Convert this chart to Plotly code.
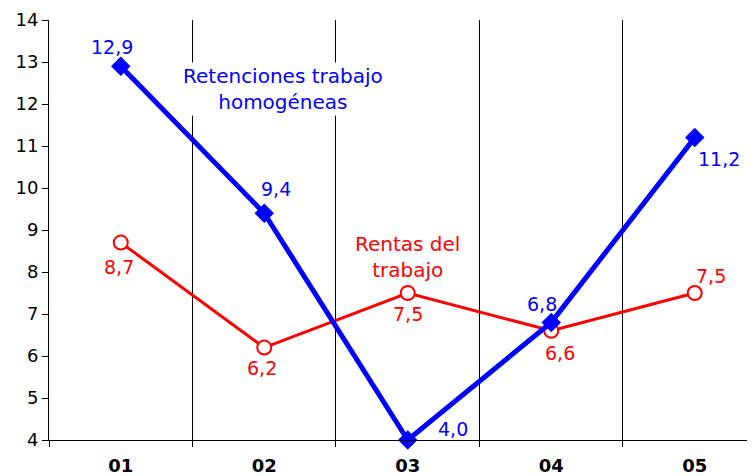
import plotly.graph_objects as go

periodos = ["01", "02", "03", "04", "05"]
retenciones = [12.9, 9.4, 4.0, 6.8, 11.2]
rentas = [8.7, 6.2, 7.5, 6.6, 7.5]
etiquetas_ret = ["12,9", "9,4", "4,0", "6,8", "11,2"]
etiquetas_ren = ["8,7", "6,2", "7,5", "6,6", "7,5"]

AZUL = "#0000ff"
ROJO = "#ff0000"
FUENTE = "DejaVu Sans, Verdana, sans-serif"

fig = go.Figure()

fig.add_trace(go.Scatter(
    x=periodos, y=rentas, mode="lines+markers", name="Rentas del trabajo",
    line=dict(color=ROJO, width=3),
    marker=dict(symbol="circle", size=14, color="white", line=dict(color=ROJO, width=2)),
    cliponaxis=False))

fig.add_trace(go.Scatter(
    x=periodos, y=retenciones, mode="lines+markers", name="Retenciones trabajo homogéneas",
    line=dict(color=AZUL, width=5),
    marker=dict(symbol="diamond", size=15, color=AZUL),
    cliponaxis=False))

# desplazamientos de las etiquetas (px) respecto al punto
desp_ret = [(-9, 19), (12, 24), (45, 11), (-9, 18), (24, -21)]
desp_ren = [(-2, -24), (-2, -20), (0, -21), (9, -22), (16, 17)]

# en eje de categorías, las anotaciones usan el índice de la categoría
for i in range(len(periodos)):
    fig.add_annotation(x=i, y=retenciones[i], text=etiquetas_ret[i], showarrow=False,
                       xshift=desp_ret[i][0], yshift=desp_ret[i][1],
                       font=dict(color=AZUL, size=19, family=FUENTE))
    fig.add_annotation(x=i, y=rentas[i], text=etiquetas_ren[i], showarrow=False,
                       xshift=desp_ren[i][0], yshift=desp_ren[i][1],
                       font=dict(color=ROJO, size=19, family=FUENTE))

fig.add_annotation(x=1.13, y=12.36, text="Retenciones trabajo<br>homogéneas", showarrow=False,
                   bgcolor="white",
                   font=dict(color=AZUL, size=20, family=FUENTE))
fig.add_annotation(x=2.0, y=8.36, text="Rentas del<br>trabajo", showarrow=False,
                   bgcolor="white",
                   font=dict(color=ROJO, size=20, family=FUENTE))

fig.update_xaxes(
    type="category", range=[-0.5, 4.42], tickson="boundaries",
    showgrid=True, gridcolor="black", gridwidth=1,
    showline=True, linecolor="black", linewidth=1,
    ticks="outside", ticklen=6, tickcolor="black",
    tickfont=dict(size=18, family=FUENTE, color="black", weight="bold"),
    ticklabelstandoff=9, zeroline=False, automargin=False)

fig.update_yaxes(
    range=[4, 14], dtick=1, showgrid=False, zeroline=False,
    showline=True, linecolor="black", linewidth=1,
    ticks="outside", ticklen=6, tickcolor="black",
    tickfont=dict(size=18, family=FUENTE, color="black"),
    automargin=False)

# la página añade 8 px de margen al cuerpo: se descuentan aquí
fig.update_layout(
    width=755, height=476,
    margin=dict(l=41, r=8, t=12, b=44),
    paper_bgcolor="white", plot_bgcolor="white",
    showlegend=False)

fig.write_html("out.html")
